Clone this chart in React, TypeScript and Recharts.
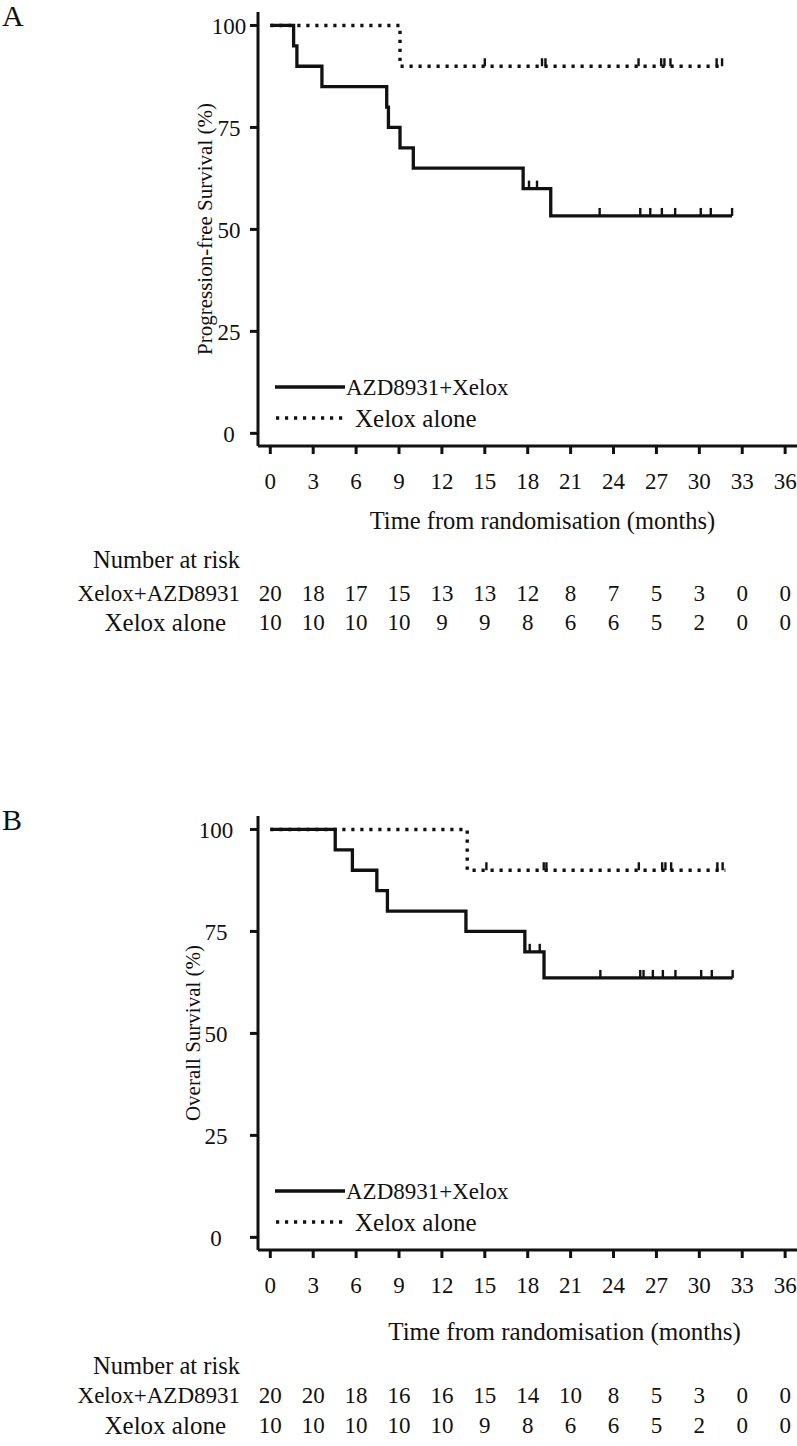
import React from 'react';
import { ComposedChart, Line, Scatter, XAxis, YAxis, Legend } from 'recharts';

const FONT = '"Liberation Serif", "Times New Roman", serif';
const INK = '#111';

const monthTicks = [0, 3, 6, 9, 12, 15, 18, 21, 24, 27, 30, 33, 36];
const survTicks = [0, 25, 50, 75, 100];

// A: progression-free survival
const pfsAzdTime = [0, 1.63, 1.86, 3.61, 8.14, 8.26, 9.07, 10.0, 17.68, 19.61, 32.29];
const pfsAzdSurv = [100, 95, 90, 85, 80, 75, 70, 65, 60, 53.3, 53.3];
const pfsAzdCensorTime = [18.09, 18.65, 23.03, 25.87, 26.57, 27.38, 28.31, 30.1, 30.8, 32.29];
const pfsAzdCensorSurv = [60, 60, 53.3, 53.3, 53.3, 53.3, 53.3, 53.3, 53.3, 53.3];
const pfsXelTime = [0, 9.07, 31.75];
const pfsXelSurv = [100, 90, 90];
const pfsXelCensorTime = [15.0, 19.0, 19.24, 25.75, 27.33, 27.56, 27.98, 31.21, 31.59];
const pfsXelCensorSurv = [90, 90, 90, 90, 90, 90, 90, 90, 90];
const pfsRiskAzd = [20, 18, 17, 15, 13, 13, 12, 8, 7, 5, 3, 0, 0];
const pfsRiskXel = [10, 10, 10, 10, 9, 9, 8, 6, 6, 5, 2, 0, 0];

// B: overall survival
const osAzdTime = [0, 4.54, 5.74, 7.45, 8.19, 13.68, 17.8, 19.14, 32.33];
const osAzdSurv = [100, 95, 90, 85, 80, 75, 70, 63.6, 63.6];
const osAzdCensorTime = [18.14, 18.84, 23.08, 25.87, 26.1, 26.75, 27.45, 28.33, 30.13, 30.87, 32.33];
const osAzdCensorSurv = [70, 70, 63.6, 63.6, 63.6, 63.6, 63.6, 63.6, 63.6, 63.6, 63.6];
const osXelTime = [0, 13.77, 31.82];
const osXelSurv = [100, 90, 90];
const osXelCensorTime = [15.11, 19.12, 19.31, 25.77, 27.4, 27.63, 28.03, 31.26, 31.63];
const osXelCensorSurv = [90, 90, 90, 90, 90, 90, 90, 90, 90];
const osRiskAzd = [20, 20, 18, 16, 16, 15, 14, 10, 8, 5, 3, 0, 0];
const osRiskXel = [10, 10, 10, 10, 10, 9, 8, 6, 6, 5, 2, 0, 0];

const toPoints = (times: number[], surv: number[]) => times.map((t, i) => ({ t, s: surv[i] }));

const CensorMark = (props: any) => {
  const { cx, cy } = props;
  if (cx == null || cy == null) return null;
  return <line x1={cx} x2={cx} y1={cy} y2={cy - 8} stroke={INK} strokeWidth={2.4} />;
};

const textStyle = { fontFamily: FONT, fontSize: 23, fill: INK };

function makeRiskTick(riskAzd: number[], riskXel: number[], rows: number[]) {
  return (props: any) => {
    const { x, y, payload } = props;
    const axisY = y - 8;
    const i = monthTicks.indexOf(payload.value);
    return (
      <g>
        <text x={x} y={axisY + 35} textAnchor="middle" dominantBaseline="central" {...textStyle}>
          {payload.value}
        </text>
        <text x={x} y={axisY + rows[1]} textAnchor="middle" dominantBaseline="central" {...textStyle}>
          {riskAzd[i]}
        </text>
        <text x={x} y={axisY + rows[2]} textAnchor="middle" dominantBaseline="central" {...textStyle}>
          {riskXel[i]}
        </text>
        {i === 0 && (
          <g>
            <text x={240} y={axisY + rows[0]} textAnchor="end" dominantBaseline="central" {...textStyle} fontSize={24.5}>Number at risk</text>
            <text x={240} y={axisY + rows[1]} textAnchor="end" dominantBaseline="central" {...textStyle}>Xelox+AZD8931</text>
            <text x={226} y={axisY + rows[2]} textAnchor="end" dominantBaseline="central" {...textStyle} fontSize={25}>Xelox alone</text>
          </g>
        )}
      </g>
    );
  };
}

const KmLegend = () => (
  <svg width={270} height={64}>
    <line x1={3} x2={73} y1={17} y2={17} stroke={INK} strokeWidth={3.3} />
    <text x={74} y={17} dominantBaseline="central" {...textStyle}>AZD8931+Xelox</text>
    <line x1={4} x2={74} y1={48} y2={48} stroke={INK} strokeWidth={3.4} strokeDasharray="3.2 5.8" />
    <text x={83} y={48} dominantBaseline="central" {...textStyle} fontSize={25}>Xelox alone</text>
  </svg>
);

interface PanelProps {
  letter: string;
  yLabel: string;
  azd: { t: number; s: number }[];
  xel: { t: number; s: number }[];
  azdCensor: { t: number; s: number }[];
  xelCensor: { t: number; s: number }[];
  riskAzd: number[];
  riskXel: number[];
  titleOffset: number;
  titleDx: number;
  titleSize: number;
  rows: number[];
  top: number;
  yTickMargin: number;
  yLabelX: number;
}

function KmPanel(p: PanelProps) {
  const H = 640;
  return (
    <div style={{ position: 'absolute', left: 0, top: p.top, width: 797, height: H }}>
      <div style={{ position: 'absolute', left: 2, top: 1, fontFamily: FONT, fontSize: 30, color: INK, lineHeight: '30px' }}>
        {p.letter}
      </div>
      <ComposedChart width={797} height={H} margin={{ top: 12, right: 0, bottom: 0, left: 0 }}>
        <XAxis
          type="number"
          dataKey="t"
          domain={[-0.86, 36.83]}
          ticks={monthTicks}
          interval={0}
          allowDataOverflow
          height={H - 12 - 434}
          tickSize={8}
          tickMargin={0}
          axisLine={{ stroke: INK, strokeWidth: 3 }}
          tickLine={{ stroke: INK, strokeWidth: 3 }}
          tick={makeRiskTick(p.riskAzd, p.riskXel, p.rows)}
          label={{
            value: 'Time from randomisation (months)',
            position: 'insideTop',
            offset: p.titleOffset,
            dx: p.titleDx,
            style: { fontFamily: FONT, fontSize: p.titleSize, fill: INK },
          }}
        />
        <YAxis
          type="number"
          domain={[-3.1, 103.3]}
          ticks={survTicks}
          interval={0}
          allowDataOverflow
          width={258}
          tickSize={8}
          tickMargin={p.yTickMargin}
          axisLine={{ stroke: INK, strokeWidth: 3 }}
          tickLine={{ stroke: INK, strokeWidth: 3 }}
          tick={{ fontFamily: FONT, fontSize: 23, fill: INK, textAnchor: 'middle' }}
          label={{
            value: p.yLabel,
            angle: -90,
            position: 'insideLeft',
            offset: p.yLabelX,
            style: { fontFamily: FONT, fontSize: 21, fill: INK, textAnchor: 'middle' },
          }}
        />
        <Legend
          layout="vertical"
          align="center"
          verticalAlign="middle"
          content={<KmLegend />}
          wrapperStyle={{ position: 'absolute', left: 272, top: 370, width: 270, height: 64 }}
        />
        <Line
          data={p.azd}
          dataKey="s"
          type="stepAfter"
          stroke={INK}
          strokeWidth={3.3}
          dot={false}
          activeDot={false}
          isAnimationActive={false}
          legendType="none"
          name="AZD8931+Xelox"
        />
        <Line
          data={p.xel}
          dataKey="s"
          type="stepAfter"
          stroke={INK}
          strokeWidth={3.4}
          strokeDasharray="3.2 5.8"
          dot={false}
          activeDot={false}
          isAnimationActive={false}
          legendType="none"
          name="Xelox alone"
        />
        <Scatter data={p.azdCensor} dataKey="s" shape={<CensorMark />} isAnimationActive={false} legendType="none" />
        <Scatter data={p.xelCensor} dataKey="s" shape={<CensorMark />} isAnimationActive={false} legendType="none" />
      </ComposedChart>
    </div>
  );
}

export default function App() {
  return (
    <div style={{ position: 'absolute', left: 0, top: 0, width: 797, height: 1446, background: '#fff', overflow: 'hidden' }}>
      <KmPanel
        top={0}
        letter="A"
        yLabel="Progression-free Survival (%)"
        azd={toPoints(pfsAzdTime, pfsAzdSurv)}
        xel={toPoints(pfsXelTime, pfsXelSurv)}
        azdCensor={toPoints(pfsAzdCensorTime, pfsAzdCensorSurv)}
        xelCensor={toPoints(pfsXelCensorTime, pfsXelCensorSurv)}
        riskAzd={pfsRiskAzd}
        riskXel={pfsRiskXel}
        titleOffset={66}
        titleDx={15}
        titleSize={24.5}
        rows={[113, 147, 176]}
        yTickMargin={21}
        yLabelX={205}
      />
      <KmPanel
        top={804}
        letter="B"
        yLabel="Overall Survival (%)"
        azd={toPoints(osAzdTime, osAzdSurv)}
        xel={toPoints(osXelTime, osXelSurv)}
        azdCensor={toPoints(osAzdCensorTime, osAzdCensorSurv)}
        xelCensor={toPoints(osXelCensorTime, osXelCensorSurv)}
        riskAzd={osRiskAzd}
        riskXel={osRiskXel}
        titleOffset={72}
        titleDx={37}
        titleSize={25}
        rows={[115, 145, 175]}
        yTickMargin={34}
        yLabelX={193}
      />
    </div>
  );
}
